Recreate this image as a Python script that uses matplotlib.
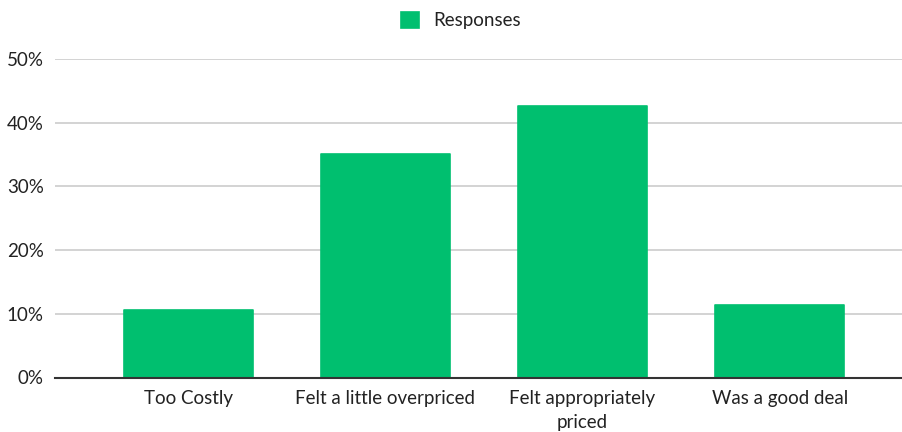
import matplotlib.pyplot as plt
from matplotlib.ticker import FuncFormatter

categories = ['Too Costly', 'Felt a little overpriced', 'Felt appropriately\npriced', 'Was a good deal']
responses = [10.6, 35.1, 42.7, 11.4]
y_ticks = [0, 10, 20, 30, 40, 50]

GREEN = '#00BF6F'

plt.rcParams['font.family'] = ['Lato', 'DejaVu Sans']

fig = plt.figure(figsize=(9.02, 4.32), dpi=100)
ax = fig.add_axes([55 / 902, 1 - 377.5 / 432, 847 / 902, 318.5 / 432])

x = list(range(len(categories)))
ax.bar(x, responses, width=0.655, color=GREEN, edgecolor=GREEN, linewidth=1.2,
       joinstyle='round', label='Responses', zorder=3)

ax.set_ylim(0, 50)
ax.set_xlim(-0.675, 3.62)
ax.set_yticks(y_ticks)
ax.yaxis.set_major_formatter(FuncFormatter(lambda v, _: f'{v:.0f}%'))
ax.set_xticks(x)
ax.set_xticklabels(categories, linespacing=1.5)

ax.grid(axis='y', color='#cccccc', linewidth=1.2, zorder=0)
for side in ['top', 'right', 'left']:
    ax.spines[side].set_visible(False)
ax.spines['bottom'].set_color('#333333')
ax.spines['bottom'].set_linewidth(1.5)
ax.spines['bottom'].set_zorder(4)

ax.tick_params(axis='both', length=0, labelsize=13.5, labelcolor='#222222')
ax.tick_params(axis='y', pad=8)
ax.tick_params(axis='x', pad=9)

fig.legend(loc='center', bbox_to_anchor=(0.511, 0.953), frameon=False,
           fontsize=13.5, handlelength=0.95, handleheight=0.95, handletextpad=0.8,
           labelcolor='#222222')

fig.savefig('out.png', dpi=100)
